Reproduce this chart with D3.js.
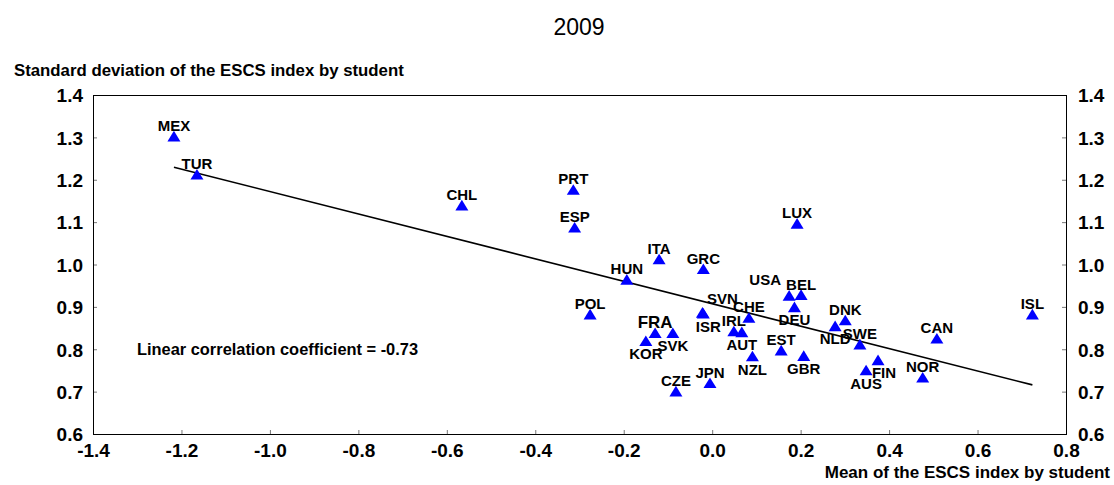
<!DOCTYPE html>
<html>
<head>
<meta charset="utf-8">
<script src="https://cdn.jsdelivr.net/npm/d3@7"></script>
<style>
  html, body { margin: 0; padding: 0; background: #fff; }
  svg { display: block; font-family: "Liberation Sans", Arial, sans-serif; }
</style>
</head>
<body>
<svg id="chart" width="1114" height="485"></svg>
<script>
// PISA 2009: mean vs. standard deviation of the ESCS index, by country
const countries = ["MEX","TUR","CHL","PRT","ESP","ITA","GRC","HUN","POL","SVN","ISR","FRA","SVK","KOR","CZE","JPN","IRL","AUT","CHE","NZL","EST","GBR","USA","BEL","DEU","LUX","DNK","NLD","SWE","FIN","AUS","NOR","CAN","ISL"];
const escsMean = [-1.217,-1.165,-0.566,-0.314,-0.311,-0.120,-0.020,-0.193,-0.276,-0.022,-0.020,-0.129,-0.089,-0.150,-0.082,-0.005,0.049,0.067,0.083,0.091,0.156,0.207,0.174,0.201,0.186,0.192,0.301,0.278,0.334,0.375,0.348,0.476,0.508,0.724];
const escsSD   = [1.303,1.213,1.140,1.177,1.088,1.013,0.990,0.965,0.883,0.887,0.885,0.839,0.839,0.820,0.701,0.721,0.843,0.841,0.875,0.784,0.798,0.785,0.927,0.929,0.900,1.097,0.869,0.855,0.812,0.775,0.751,0.734,0.826,0.883];

// Linear fit shown across the data range
const trendIntercept = 0.9075;
const trendSlope = -0.2646;
const correlationText = "Linear correlation coefficient = -0.73";

const xTicks = [-1.4,-1.2,-1.0,-0.8,-0.6,-0.4,-0.2,0.0,0.2,0.4,0.6,0.8];
const yTicks = [0.6,0.7,0.8,0.9,1.0,1.1,1.2,1.3,1.4];

const chartTitle = "2009";
const yTitle = "Standard deviation of the ESCS index by student";
const xTitle = "Mean of the ESCS index by student";
const highlight = "FRA";

// Label placement around each marker
const below = new Set(["DEU","ISR","AUT","KOR","SVK","NLD","NZL","GBR","FIN","AUS"]);
const labelShift = { USA: [-24, -5], SVN: [20, -3], ISR: [5, 0], FIN: [6, 0] };

const svg = d3.select("#chart");
const plotL = 93, plotR = 1066, plotT = 95, plotB = 434;

const x = d3.scaleLinear().domain([-1.4, 0.8]).range([plotL, plotR]);
const y = d3.scaleLinear().domain([0.6, 1.4]).range([plotB, plotT]);
const fmt = d => d.toFixed(1);

// Title
svg.append("text").attr("x", 579).attr("y", 35).attr("text-anchor", "middle")
  .attr("font-size", 23).attr("fill", "#000").text(chartTitle);

// Axis titles
svg.append("text").attr("x", 14).attr("y", 76).attr("font-size", 16.8).attr("font-weight", "bold")
  .text(yTitle);
svg.append("text").attr("x", 1110).attr("y", 478).attr("text-anchor", "end")
  .attr("font-size", 17).attr("font-weight", "bold").text(xTitle);

// Axes (ticks point into the plot)
const axisStyle = g => {
  g.select(".domain").remove();
  g.selectAll(".tick line").attr("stroke", "#777");
  g.selectAll(".tick text").attr("font-size", 19).attr("font-weight", "bold")
    .attr("fill", "#000").attr("font-family", "Liberation Sans, Arial, sans-serif");
};

svg.append("g").attr("transform", `translate(0,${plotB})`)
  .call(d3.axisBottom(x).tickValues(xTicks).tickFormat(fmt).tickSizeInner(-4).tickSizeOuter(0).tickPadding(10))
  .call(axisStyle)
  .call(g => g.selectAll(".tick text").attr("dy", "0.66em"));

svg.append("g").attr("transform", `translate(${plotL},0)`)
  .call(d3.axisLeft(y).tickValues(yTicks).tickFormat(fmt).tickSizeInner(-4).tickSizeOuter(0).tickPadding(10))
  .call(axisStyle)
  .call(g => g.selectAll(".tick text").attr("dy", "0.36em"));

svg.append("g").attr("transform", `translate(${plotR},0)`)
  .call(d3.axisRight(y).tickValues(yTicks).tickFormat(fmt).tickSizeInner(-4).tickSizeOuter(0).tickPadding(12))
  .call(axisStyle)
  .call(g => g.selectAll(".tick text").attr("dy", "0.36em"));

// Plot frame
svg.append("rect").attr("x", plotL + 0.5).attr("y", plotT + 0.5)
  .attr("width", plotR - plotL).attr("height", plotB - plotT)
  .attr("fill", "none").attr("stroke", "#000").attr("stroke-width", 1);

// Trend line
const xExt = d3.extent(escsMean);
svg.append("line")
  .attr("x1", x(xExt[0])).attr("y1", y(trendIntercept + trendSlope * xExt[0]))
  .attr("x2", x(xExt[1])).attr("y2", y(trendIntercept + trendSlope * xExt[1]))
  .attr("stroke", "#000").attr("stroke-width", 1.6);

// Markers: triangles centred on their bounding box
const triangle = {
  draw(ctx, size) {
    const s = Math.sqrt(size), w = s, h = s * 0.82;
    ctx.moveTo(0, -h / 2);
    ctx.lineTo(w / 2, h / 2);
    ctx.lineTo(-w / 2, h / 2);
    ctx.closePath();
  }
};
const points = countries.map((c, i) => ({ c, mx: escsMean[i], sd: escsSD[i] }));

svg.append("g").selectAll("path").data(points).join("path")
  .attr("transform", d => `translate(${x(d.mx)},${y(d.sd)})`)
  .attr("d", d3.symbol().type(triangle).size(169))
  .attr("fill", "#0000ff");

// Country labels
svg.append("g").selectAll("text").data(points).join("text")
  .attr("x", d => x(d.mx) + (labelShift[d.c] ? labelShift[d.c][0] : 0))
  .attr("y", d => y(d.sd) + (below.has(d.c) ? 18.5 : -5) + (labelShift[d.c] ? labelShift[d.c][1] : 0))
  .attr("text-anchor", "middle")
  .attr("font-weight", "bold")
  .attr("font-size", d => d.c === highlight ? 17 : 15)
  .attr("fill", "#000")
  .text(d => d.c);

// Correlation note
svg.append("text").attr("x", 137).attr("y", 355).attr("font-size", 16.4).attr("font-weight", "bold")
  .text(correlationText);
</script>
</body>
</html>
